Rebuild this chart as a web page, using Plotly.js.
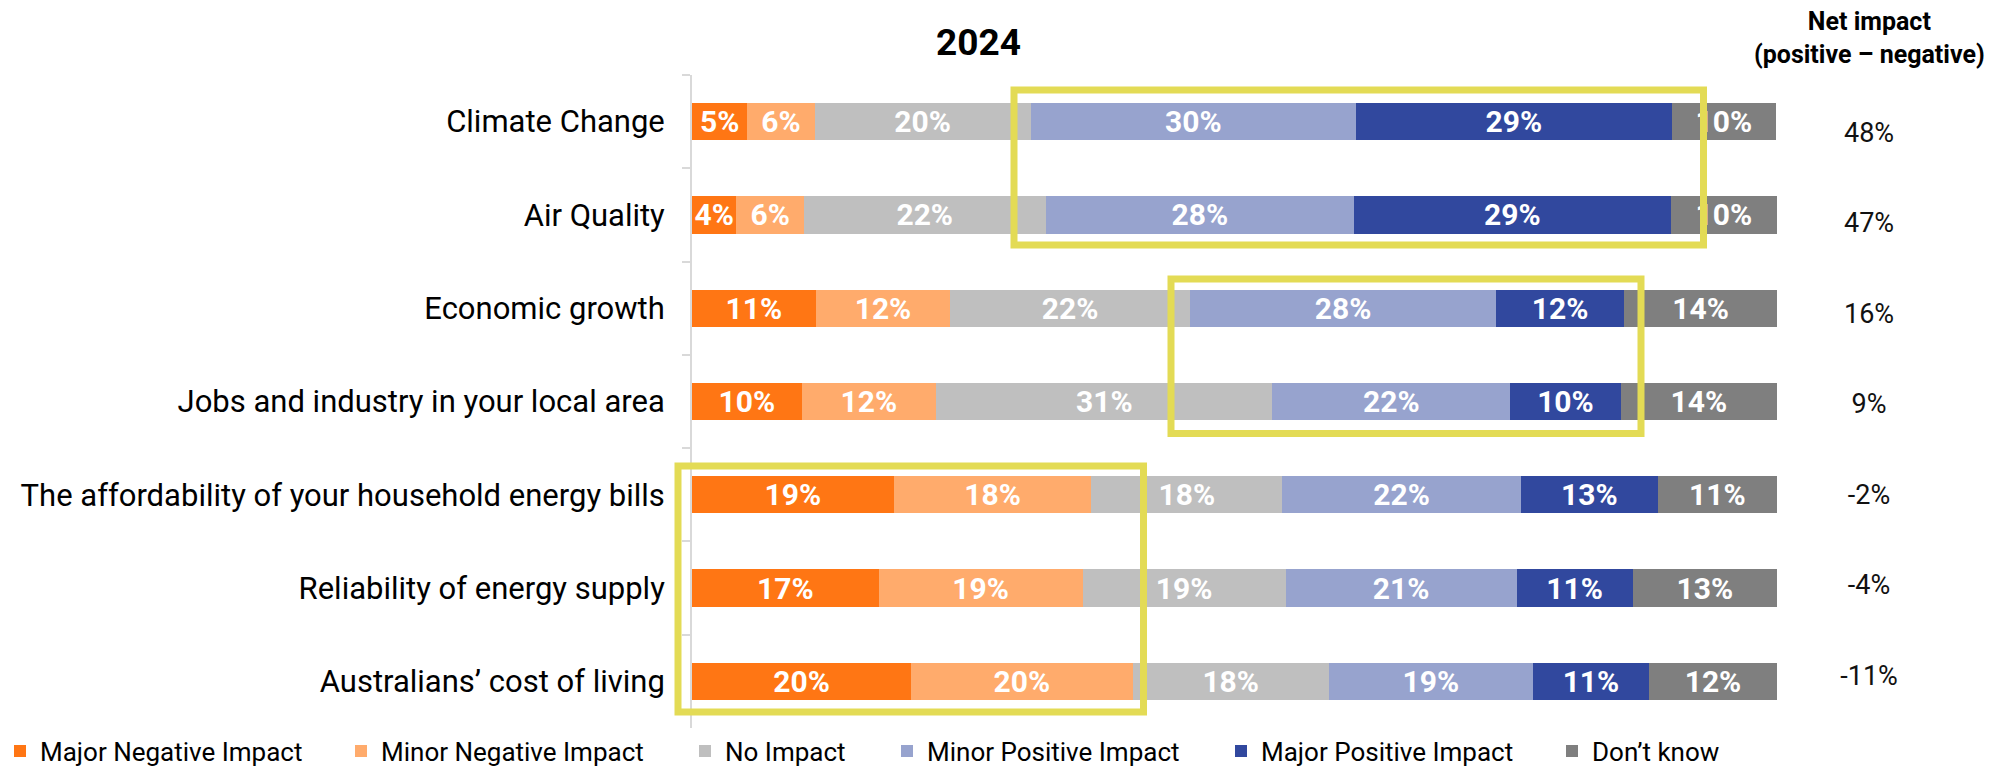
<!DOCTYPE html>
<html>
<head>
<meta charset="utf-8">
<script src="https://cdn.plot.ly/plotly-3.0.1.min.js"></script>
<style>
  html, body { margin: 0; padding: 0; background: #ffffff; }
  #chart { width: 2007px; height: 770px; }
</style>
</head>
<body>
<div id="chart"></div>
<script>
// ---- data ----
const chartTitle = '2024';
const categories = [
  'Climate Change',
  'Air Quality',
  'Economic growth',
  'Jobs and industry in your local area',
  'The affordability of your household energy bills',
  'Reliability of energy supply',
  'Australians\u2019 cost of living'
];
const seriesNames = ['Major Negative Impact', 'Minor Negative Impact', 'No Impact', 'Minor Positive Impact', 'Major Positive Impact', 'Don\u2019t know'];
const majorNegative = [5.1, 4.1, 11.4, 10.1, 18.6, 17.2, 20.2];
const minorNegative = [6.2, 6.2, 12.4, 12.4, 18.2, 18.8, 20.4];
const noImpact      = [19.9, 22.3, 22.1, 31.0, 17.6, 18.7, 18.1];
const minorPositive = [30.0, 28.4, 28.2, 21.9, 22.0, 21.3, 18.8];
const majorPositive = [29.1, 29.2, 11.8, 10.2, 12.6, 10.7, 10.7];
const dontKnow      = [9.6, 9.8, 14.1, 14.4, 11.0, 13.3, 11.8];
const netImpact     = [48, 47, 16, 9, -2, -4, -11];
const netHeader = 'Net impact<br>(positive \u2013 negative)';

// ---- styles ----
const seriesColors = ['#FF7614', '#FFAB6C', '#BFBFBF', '#97A3CE', '#31489E', '#7F7F7F'];
const seriesValues = [majorNegative, minorNegative, noImpact, minorPositive, majorPositive, dontKnow];
const legendIds = ['legend', 'legend2', 'legend3', 'legend4', 'legend5', 'legend6'];
const legendX = [0, 341, 685, 887, 1221, 1552];
const FONT = 'Roboto, "Noto Sans", Arial, sans-serif';
const W = 2007, H = 770;
const PLOT_L = 692, PLOT_W = W - PLOT_L;
const px2paper = p => (p - PLOT_L) / PLOT_W;

const traces = seriesValues.map((vals, i) => ({
  type: 'bar',
  orientation: 'h',
  name: seriesNames[i],
  x: vals,
  y: categories,
  xaxis: 'x',
  yaxis: 'y',
  legend: legendIds[i],
  marker: { color: seriesColors[i], line: { width: 0 } },
  texttemplate: '%{x:.0f}%',
  textposition: 'inside',
  insidetextanchor: 'middle',
  constraintext: 'none',
  textangle: 0,
  textfont: { family: FONT, size: 30, color: '#ffffff', weight: 700 },
  hoverinfo: 'skip'
}));

traces.push({
  type: 'scatter',
  mode: 'text',
  x: netImpact.map(() => 0),
  y: categories,
  xaxis: 'x2',
  yaxis: 'y2',
  text: netImpact.map(v => v + '%'),
  textposition: 'middle center',
  textfont: { family: FONT, size: 27, color: '#111111' },
  showlegend: false,
  hoverinfo: 'skip',
  cliponaxis: false
});

const boxStyle = { color: '#E3DB55', width: 7 };

const layout = {
  width: W,
  height: H,
  paper_bgcolor: '#ffffff',
  plot_bgcolor: '#ffffff',
  margin: { l: PLOT_L, r: 0, t: 75, b: 42, autoexpand: false },
  barmode: 'stack',
  bargap: 0.6,
  font: { family: FONT, color: '#000000' },
  title: {
    text: chartTitle,
    x: 978.5 / W, xref: 'container', xanchor: 'center',
    y: 1 - 42 / H, yref: 'container', yanchor: 'middle',
    font: { family: FONT, size: 37, color: '#000000', weight: 700 }
  },
  xaxis: {
    domain: [0, 1085 / PLOT_W],
    range: [0, 100],
    showgrid: false, zeroline: false, showline: false,
    showticklabels: false, ticks: '', fixedrange: true
  },
  yaxis: {
    type: 'category',
    range: [6.5, -0.5],
    showgrid: false, zeroline: false,
    showline: true, linecolor: '#D9D9D9', linewidth: 2,
    ticks: 'outside', tickson: 'boundaries', ticklen: 8, tickwidth: 2, tickcolor: '#D9D9D9',
    ticklabelstandoff: 19,
    tickfont: { family: FONT, size: 31, color: '#000000' },
    fixedrange: true
  },
  xaxis2: {
    domain: [0.8251, 0.9651],
    range: [-1, 1],
    anchor: 'y2',
    visible: false, fixedrange: true
  },
  yaxis2: {
    type: 'category',
    domain: [0.0073, 0.9774],
    range: [6.5, -0.5],
    anchor: 'x2',
    visible: false, fixedrange: true
  },
  annotations: [{
    text: netHeader,
    xref: 'x2', x: 0, xanchor: 'center',
    yref: 'paper', y: (728 - 38) / 653, yanchor: 'middle',
    showarrow: false,
    font: { family: FONT, size: 25, color: '#000000', weight: 700 }
  }],
  shapes: [
    { type: 'rect', xref: 'paper', yref: 'y', x0: px2paper(1014), x1: px2paper(1703.5), y0: -0.339, y1: 1.322,
      line: boxStyle, fillcolor: 'rgba(0,0,0,0)', layer: 'above' },
    { type: 'rect', xref: 'paper', yref: 'y', x0: px2paper(1171), x1: px2paper(1641), y0: 1.687, y1: 3.343,
      line: boxStyle, fillcolor: 'rgba(0,0,0,0)', layer: 'above' },
    { type: 'rect', xref: 'paper', yref: 'y', x0: px2paper(678), x1: px2paper(1143.5), y0: 3.691, y1: 6.328,
      line: boxStyle, fillcolor: 'rgba(0,0,0,0)', layer: 'above' }
  ],
  showlegend: true
};

legendIds.forEach((id, i) => {
  layout[id] = {
    orientation: 'h',
    xref: 'container', x: legendX[i] / W, xanchor: 'left',
    yref: 'container', y: 1 - 751 / H, yanchor: 'middle',
    bgcolor: 'rgba(0,0,0,0)', borderwidth: 0,
    font: { family: FONT, size: 26, color: '#000000' },
    itemclick: false, itemdoubleclick: false
  };
});

Plotly.newPlot('chart', traces, layout, { displayModeBar: false, staticPlot: true });
</script>
</body>
</html>
